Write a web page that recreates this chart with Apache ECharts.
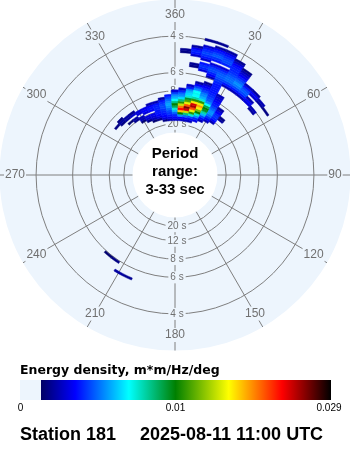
<!DOCTYPE html>
<html><head><meta charset="utf-8">
<script src="https://cdn.jsdelivr.net/npm/echarts@6/dist/echarts.min.js"></script>
<style>html,body{margin:0;padding:0;background:#fff}#c{width:350px;height:450px}</style>
</head><body><div id="c"></div>
<script>
// ---------- data ----------
const periodRings = [4, 6, 8, 12, 20];                 // seconds
const spokeAngles = [0, 30, 60, 90, 120, 150, 180, 210, 240, 270, 300, 330];
const spokeLabels = ['360', '30', '60', '90', '120', '150', '180', '210', '240', '270', '300', '330'];
const periodRangeSec = [3, 33];
const freqStepHz = 0.005;
const dirStepDeg = 5;
const spectrumDirections = [310, 315, 320, 325, 330, 335, 340, 345, 350, 355, 0, 5, 10, 15, 20, 25, 30, 35, 40, 45, 50, 55, 205, 210, 215, 220];
const spectrumStartHz   = [0.105, 0.1, 0.09, 0.085, 0.075, 0.07, 0.065, 0.065, 0.06, 0.06, 0.06, 0.06, 0.06, 0.06, 0.065, 0.07, 0.075, 0.08, 0.095, 0.165, 0.16, 0.185, 0.19, 0.19, 0.17, 0.17];
// energy density in units of 1e-4 m*m/Hz/deg, one row per direction, consecutive frequency bins
const spectrumEnergyE4 = [
  [18],
  [18, 22, 18],
  [15, 0, 22, 22],
  [20, 22, 0, 28, 20],
  [15, 25, 25, 0, 30, 30],
  [18, 28, 30, 0, 30, 35, 32],
  [15, 25, 30, 32, 0, 35, 38, 35, 25],
  [20, 30, 35, 38, 38, 40, 40, 38, 25],
  [18, 30, 35, 38, 40, 42, 45, 45, 42, 38, 22],
  [25, 32, 38, 42, 45, 50, 55, 58, 55, 50, 45, 38],
  [28, 35, 40, 48, 60, 75, 90, 100, 85, 70, 60, 55, 45, 30],
  [28, 35, 55, 100, 180, 230, 200, 150, 110, 85, 65, 55, 50, 40, 28, 0, 0, 0, 0, 0, 0, 0, 0, 0, 0, 0, 0, 0, 0, 0, 0, 18, 20],
  [28, 35, 50, 85, 150, 240, 260, 210, 160, 120, 95, 75, 65, 62, 55, 40, 28, 0, 0, 0, 0, 0, 0, 0, 0, 18, 20, 0, 0, 0, 28, 38, 40, 35, 22],
  [25, 35, 45, 75, 110, 160, 210, 250, 240, 170, 110, 80, 70, 72, 70, 55, 45, 35, 22, 0, 0, 0, 0, 0, 30, 40, 42, 38, 0, 28, 38, 42, 45, 42, 38, 28, 0, 0, 20],
  [32, 40, 55, 75, 100, 130, 170, 190, 160, 110, 75, 60, 55, 52, 45, 40, 35, 30, 20, 0, 0, 25, 35, 40, 45, 45, 40, 30, 0, 38, 42, 48, 45, 40, 35, 22, 0, 20],
  [25, 35, 45, 60, 80, 95, 100, 90, 70, 55, 48, 45, 42, 40, 38, 38, 38, 38, 38, 40, 42, 45, 48, 48, 45, 40, 30, 0, 40, 45, 45, 42, 38, 32, 22],
  [25, 35, 42, 50, 55, 55, 50, 45, 40, 38, 35, 32, 30, 25, 0, 0, 0, 0, 25, 38, 45, 50, 50, 48, 45, 42, 40, 40, 38, 35, 28, 20],
  [25, 35, 40, 42, 40, 35, 30, 22, 0, 0, 0, 0, 0, 0, 0, 0, 0, 25, 38, 45, 52, 55, 50, 45, 40, 35, 30, 25, 18],
  [22, 18, 0, 0, 0, 0, 0, 0, 0, 0, 0, 0, 0, 0, 25, 38, 45, 48, 45, 38, 25],
  [30, 35, 25, 0, 28, 35, 22],
  [22, 25, 0, 0, 0, 22, 25],
  [18],
  [20],
  [22],
  [18],
  [15]
];
const scaleValues = [0.00135, 0.00355, 0.007, 0.01, 0.0165, 0.023, 0.029];
const scaleColors = ['#000064', '#0000ff', '#00ffff', '#008000', '#ffff00', '#ff0000', '#000000'];
const scaleTickValues = [0, 0.01, 0.029];
const scaleTickLabels = ['0', '0.01', '0.029'];
const colorbarTitle = 'Energy density, m*m/Hz/deg';
const stationName = 'Station 181';
const timeLabel = '2025-08-11 11:00 UTC';

// ---------- styling / layout ----------
const DISC = '#edf5fd';
const GRID = '#7f7f7f';
const LABEL = '#707070';
const FONT = '"Liberation Sans", Arial, sans-serif';
const BAR = {left: 20, right: 331, top: 380, height: 20};

const fMin = 1 / periodRangeSec[1], fMax = 1 / periodRangeSec[0];

function hexRgb(h) { return [1, 3, 5].map(i => parseInt(h.substr(i, 2), 16)); }
function colorFor(v) {
  if (v < scaleValues[0]) return null;
  for (let i = 1; i < scaleValues.length; i++) {
    if (v <= scaleValues[i] || i === scaleValues.length - 1) {
      const t = Math.min(1, (v - scaleValues[i - 1]) / (scaleValues[i] - scaleValues[i - 1]));
      const a = hexRgb(scaleColors[i - 1]), b = hexRgb(scaleColors[i]);
      return 'rgb(' + a.map((c, k) => Math.round(c + (b[k] - c) * t)).join(',') + ')';
    }
  }
}
// colorbar position (piecewise linear, 0.01 at the middle)
function barX(v) {
  const w = BAR.right - BAR.left;
  const t = scaleTickValues;
  if (v <= t[1]) return BAR.left + (w / 2) * (v - t[0]) / (t[1] - t[0]);
  return BAR.left + w / 2 + (w / 2) * (v - t[1]) / (t[2] - t[1]);
}

const cells = [];
spectrumDirections.forEach((d, i) => {
  spectrumEnergyE4[i].forEach((e, k) => {
    if (e > 0) cells.push([spectrumStartHz[i] + k * freqStepHz, d, e * 1e-4]);
  });
});

function dist(p, c) { return Math.hypot(p[0] - c.cx, p[1] - c.cy); }
function ang(p, c) { return Math.atan2(p[1] - c.cy, p[0] - c.cx); }

const gx0 = barX(scaleValues[0]);
const gStops = scaleValues.map((v, i) => ({offset: (barX(v) - gx0) / (BAR.right - gx0), color: scaleColors[i]}));

const chart = echarts.init(document.getElementById('c'), null, {renderer: 'canvas'});
chart.setOption({
  animation: false,
  backgroundColor: '#ffffff',
  polar: {center: [175, 175], radius: [42.5, 175.5]},
  angleAxis: {type: 'value', min: 0, max: 360, startAngle: 90, clockwise: true,
    axisLine: {show: false}, axisTick: {show: false}, axisLabel: {show: false}, splitLine: {show: false}},
  radiusAxis: {type: 'value', min: fMin, max: fMax,
    axisLine: {show: false}, axisTick: {show: false}, axisLabel: {show: false}, splitLine: {show: false}},
  series: [
    { // disc
      type: 'custom', coordinateSystem: 'polar', z: 1, silent: true,
      data: [[fMax, 0]],
      renderItem: (params, api) => {
        const c = params.coordSys;
        return {type: 'ring', shape: {cx: c.cx, cy: c.cy, r: c.r, r0: c.r0}, style: {fill: DISC}};
      }
    },
    { // period rings
      type: 'custom', coordinateSystem: 'polar', z: 2, silent: true,
      data: periodRings.map(p => [1 / p, 0]),
      renderItem: (params, api) => {
        const c = params.coordSys;
        const r = dist(api.coord([api.value(0), 0]), c);
        return {type: 'circle', shape: {cx: c.cx, cy: c.cy, r: r}, style: {fill: null, stroke: GRID, lineWidth: 1}};
      }
    },
    { // spokes
      type: 'custom', coordinateSystem: 'polar', z: 2, silent: true,
      data: spokeAngles.map(a => [fMax, a]),
      renderItem: (params, api) => {
        const a = api.value(1);
        const p0 = api.coord([fMin, a]), p1 = api.coord([fMax, a]);
        return {type: 'line', shape: {x1: p0[0], y1: p0[1], x2: p1[0], y2: p1[1]}, style: {stroke: GRID, lineWidth: 1}};
      }
    },
    { // angle labels
      type: 'custom', coordinateSystem: 'polar', z: 3, silent: true,
      data: spokeAngles.map((a, i) => [fMax, a, i]),
      renderItem: (params, api) => {
        const c = params.coordSys;
        const p = api.coord([fMax, api.value(1)]);
        const k = (c.r - 15.5) / c.r;
        return {type: 'text', x: c.cx + (p[0] - c.cx) * k, y: c.cy + (p[1] - c.cy) * k,
          style: {text: spokeLabels[api.value(2)], fill: LABEL, font: '12px ' + FONT, align: 'center', verticalAlign: 'middle',
            backgroundColor: DISC, padding: [1, 1]}};
      }
    },
    { // period labels
      type: 'custom', coordinateSystem: 'polar', z: 3, silent: true,
      data: periodRings.flatMap(p => [[1 / p, 0, p], [1 / p, 180, p]]),
      renderItem: (params, api) => {
        const p = api.coord([api.value(0), api.value(1)]);
        return {type: 'text', x: p[0] + 2, y: p[1],
          style: {text: api.value(2) + ' s', fill: LABEL, font: '10px ' + FONT, align: 'center', verticalAlign: 'middle',
            backgroundColor: DISC, padding: [1, 2]}};
      }
    },
    { // spectrum cells
      type: 'custom', coordinateSystem: 'polar', z: 4, silent: true,
      data: cells,
      renderItem: (params, api) => {
        const c = params.coordSys;
        const f = api.value(0), d = api.value(1), v = api.value(2);
        const col = colorFor(v);
        if (!col) return null;
        const r0 = dist(api.coord([f - freqStepHz / 2, d]), c);
        const r1 = dist(api.coord([f + freqStepHz / 2, d]), c);
        let a0 = ang(api.coord([f, d - dirStepDeg / 2]), c);
        let a1 = ang(api.coord([f, d + dirStepDeg / 2]), c);
        if (a1 < a0) a1 += Math.PI * 2;
        return {type: 'sector', shape: {cx: c.cx, cy: c.cy, r0: r0, r: r1, startAngle: a0, endAngle: a1, clockwise: true},
          style: {fill: col, stroke: col, lineWidth: 0.5}};
      }
    }
  ],
  graphic: [
    {type: 'text', x: 175, y: 154, style: {text: 'Period', font: 'bold 15px ' + FONT, fill: '#000', align: 'center', verticalAlign: 'middle'}},
    {type: 'text', x: 175, y: 171.5, style: {text: 'range:', font: 'bold 15px ' + FONT, fill: '#000', align: 'center', verticalAlign: 'middle'}},
    {type: 'text', x: 175, y: 190, style: {text: periodRangeSec[0] + '-' + periodRangeSec[1] + ' sec', font: 'bold 15px ' + FONT, fill: '#000', align: 'center', verticalAlign: 'middle'}},
    {type: 'text', x: BAR.left, y: 370.5, style: {text: colorbarTitle, font: 'bold 12.5px "DejaVu Sans", Verdana, sans-serif', fill: '#000', align: 'left', verticalAlign: 'middle'}},
    {type: 'rect', shape: {x: BAR.left, y: BAR.top, width: gx0 - BAR.left, height: BAR.height}, style: {fill: DISC}},
    {type: 'rect', shape: {x: gx0, y: BAR.top, width: BAR.right - gx0, height: BAR.height},
      style: {fill: {type: 'linear', x: 0, y: 0, x2: 1, y2: 0, colorStops: gStops}}},
    ...scaleTickValues.map((v, i) => ({type: 'text', x: Math.min(barX(v), BAR.right - 2) + (i === 0 ? 0.5 : 0), y: 408,
      style: {text: scaleTickLabels[i], font: '10px ' + FONT, fill: '#000', align: 'center', verticalAlign: 'middle'}})),
    {type: 'text', x: 20, y: 435.5, style: {text: stationName, font: 'bold 18px ' + FONT, fill: '#000', align: 'left', verticalAlign: 'middle'}},
    {type: 'text', x: 140, y: 435.5, style: {text: timeLabel, font: 'bold 18px ' + FONT, fill: '#000', align: 'left', verticalAlign: 'middle'}}
  ]
});
</script></body></html>
